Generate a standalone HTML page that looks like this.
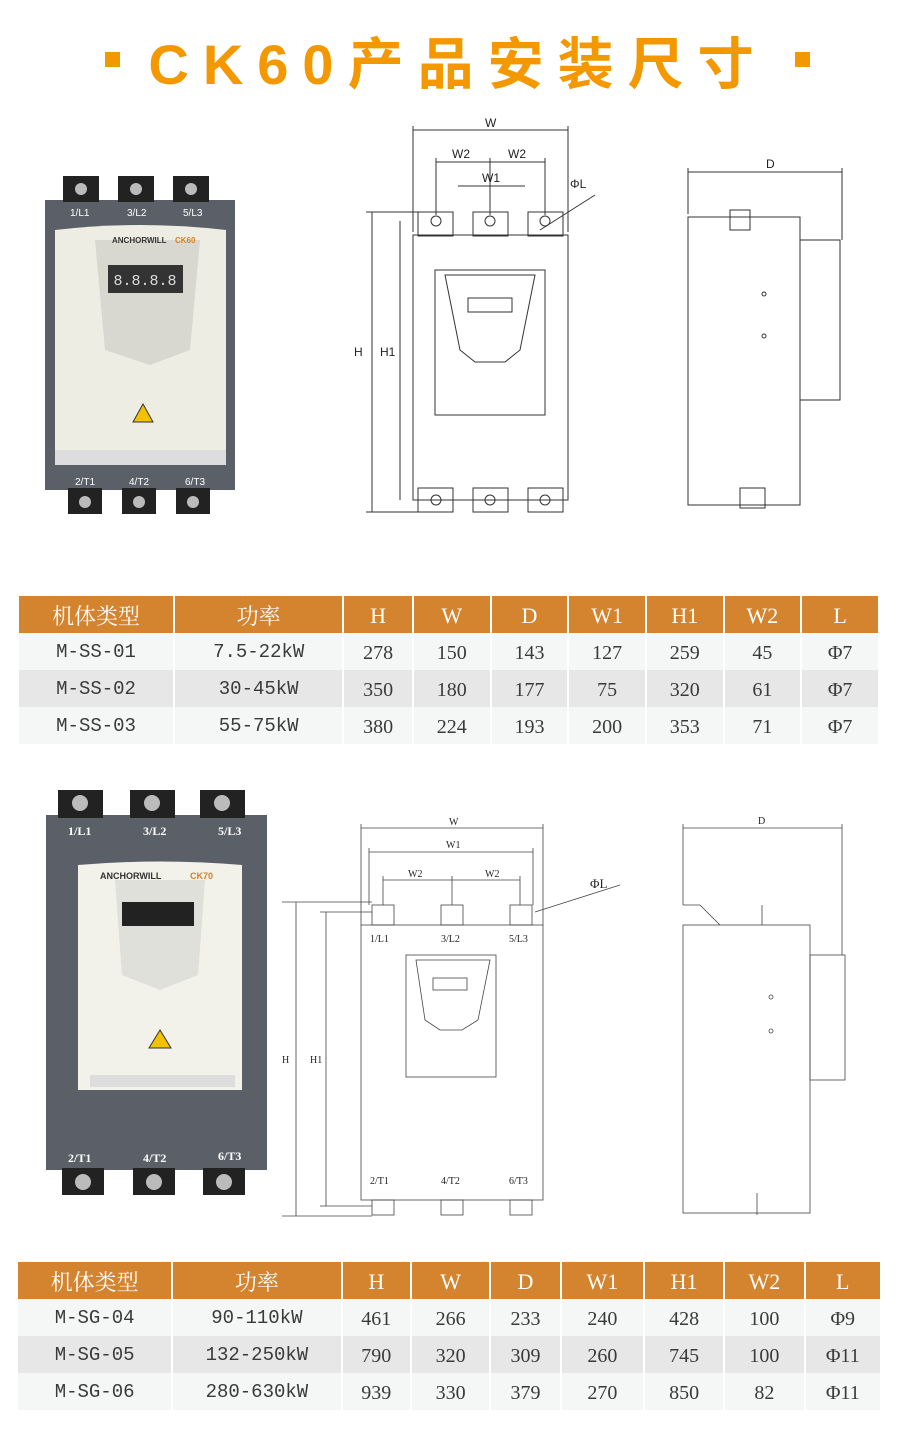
<!DOCTYPE html>
<html><head><meta charset="utf-8">
<style>
*{margin:0;padding:0;box-sizing:border-box}
body{width:900px;height:1436px;background:#fff;position:relative;overflow:hidden;font-family:"Liberation Serif","Noto Serif CJK SC",serif}
.t{position:absolute;border-collapse:separate;border-spacing:2px 0}
.t td{text-align:center;color:#3a3a3a;font-size:20px;background:#f5f6f6;padding:4px 0 0 0}
.t tr.h td{background:#d4842f;color:#fff;font-size:22px;padding:2px 0 0 0;font-family:"Liberation Serif","Noto Serif CJK SC",serif}
.t tr.g td{background:#e7e7e7}
.t td.m{font-family:"Liberation Mono","Noto Sans CJK SC",monospace;font-size:19px;padding:0}
.title{position:absolute;left:8px;top:20px;width:900px;text-align:center;color:#f39800;font:bold 56px "Liberation Sans","Noto Sans CJK SC",sans-serif;letter-spacing:14px}
.sq{position:absolute;width:15px;height:15px;background:#f39800;top:52px}
</style></head><body>
<div class="title">CK60产品安装尺寸</div>
<div class="sq" style="left:105px"></div><div class="sq" style="left:795px"></div>

<svg style="position:absolute;left:0;top:0" width="900" height="1436">
<g>
<rect x="45" y="200" width="190" height="290" fill="#5b5f68"/>
<rect x="63" y="176" width="36" height="26" fill="#222"/><rect x="118" y="176" width="36" height="26" fill="#222"/><rect x="173" y="176" width="36" height="26" fill="#222"/>
<circle cx="81" cy="189" r="6" fill="#bbb"/><circle cx="136" cy="189" r="6" fill="#bbb"/><circle cx="191" cy="189" r="6" fill="#bbb"/>
<rect x="68" y="488" width="34" height="26" fill="#222"/><rect x="122" y="488" width="34" height="26" fill="#222"/><rect x="176" y="488" width="34" height="26" fill="#222"/>
<circle cx="85" cy="502" r="6" fill="#bbb"/><circle cx="139" cy="502" r="6" fill="#bbb"/><circle cx="193" cy="502" r="6" fill="#bbb"/>
<path d="M55 230 Q140 220 226 230 L226 460 L55 460 Z" fill="#eeede4"/>
<path d="M95 240 L200 240 L190 350 L150 365 L105 350 Z" fill="#d8d8d0"/>
<rect x="108" y="265" width="75" height="28" fill="#333"/>
<text x="145" y="285" fill="#ddd" font-size="15" text-anchor="middle" font-family="Liberation Mono">8.8.8.8</text>
<text x="112" y="243" font-size="8" font-weight="bold" fill="#333" font-family="Liberation Sans">ANCHORWILL</text>
<text x="175" y="243" font-size="8" font-weight="bold" fill="#d88020" font-family="Liberation Sans">CK60</text>
<polygon points="143,404 133,422 153,422" fill="#f2c200" stroke="#333"/>
<rect x="55" y="450" width="171" height="15" fill="#ddd"/>
<text fill="#fff" font-size="10" font-family="Liberation Sans"><tspan x="70" y="216">1/L1</tspan><tspan x="127" y="216">3/L2</tspan><tspan x="183" y="216">5/L3</tspan><tspan x="75" y="485">2/T1</tspan><tspan x="129" y="485">4/T2</tspan><tspan x="185" y="485">6/T3</tspan></text>
</g>
<g fill="none" stroke="#333" stroke-width="1">
<rect x="413" y="235" width="155" height="265"/>
<rect x="435" y="270" width="110" height="145"/>
<path d="M445 275 L535 275 L520 350 L505 362 L475 362 L460 350 Z"/>
<rect x="468" y="298" width="44" height="14"/>
<rect x="418" y="212" width="35" height="24"/><rect x="473" y="212" width="35" height="24"/><rect x="528" y="212" width="35" height="24"/>
<rect x="418" y="488" width="35" height="24"/><rect x="473" y="488" width="35" height="24"/><rect x="528" y="488" width="35" height="24"/>
<circle cx="436" cy="221" r="5"/><circle cx="490" cy="221" r="5"/><circle cx="545" cy="221" r="5"/>
<circle cx="436" cy="500" r="5"/><circle cx="490" cy="500" r="5"/><circle cx="545" cy="500" r="5"/>
<line x1="413" y1="130" x2="568" y2="130"/><line x1="413" y1="126" x2="413" y2="232"/><line x1="568" y1="126" x2="568" y2="232"/>
<line x1="436" y1="162" x2="545" y2="162"/><line x1="436" y1="158" x2="436" y2="215"/><line x1="545" y1="158" x2="545" y2="215"/><line x1="490" y1="158" x2="490" y2="215"/>
<line x1="458" y1="186" x2="525" y2="186"/>
<line x1="372" y1="212" x2="372" y2="512"/><line x1="366" y1="212" x2="418" y2="212"/><line x1="366" y1="512" x2="418" y2="512"/>
<line x1="400" y1="221" x2="400" y2="500"/>
<line x1="540" y1="230" x2="595" y2="195"/>
<rect x="688" y="217" width="112" height="288"/>
<rect x="800" y="240" width="40" height="160"/>
<line x1="688" y1="172" x2="842" y2="172"/><line x1="688" y1="168" x2="688" y2="214"/><line x1="842" y1="168" x2="842" y2="240"/>
<rect x="730" y="210" width="20" height="20"/><rect x="740" y="488" width="25" height="20"/>
<circle cx="764" cy="294" r="2"/><circle cx="764" cy="336" r="2"/>
</g>
<g font-family="Liberation Sans" font-size="12" fill="#222">
<text x="485" y="127">W</text><text x="452" y="158">W2</text><text x="508" y="158">W2</text><text x="482" y="182">W1</text>
<text x="570" y="188">ΦL</text><text x="354" y="356">H</text><text x="380" y="356">H1</text><text x="766" y="168">D</text>
</g>

<g>
<rect x="46" y="815" width="221" height="355" fill="#5b5f68"/>
<rect x="58" y="790" width="45" height="28" fill="#222"/><rect x="130" y="790" width="45" height="28" fill="#222"/><rect x="200" y="790" width="45" height="28" fill="#222"/>
<circle cx="80" cy="803" r="8" fill="#bbb"/><circle cx="152" cy="803" r="8" fill="#bbb"/><circle cx="222" cy="803" r="8" fill="#bbb"/>
<rect x="62" y="1168" width="42" height="27" fill="#222"/><rect x="133" y="1168" width="42" height="27" fill="#222"/><rect x="203" y="1168" width="42" height="27" fill="#222"/>
<circle cx="83" cy="1182" r="8" fill="#bbb"/><circle cx="154" cy="1182" r="8" fill="#bbb"/><circle cx="224" cy="1182" r="8" fill="#bbb"/>
<path d="M78 865 Q160 858 242 865 L242 1090 L78 1090 Z" fill="#f2f1ea"/>
<path d="M115 880 L205 880 L198 975 L160 990 L122 975 Z" fill="#e0e0da"/>
<rect x="122" y="902" width="72" height="24" fill="#222"/>
<text x="100" y="879" font-size="9" font-weight="bold" fill="#333" font-family="Liberation Sans">ANCHORWILL</text>
<text x="190" y="879" font-size="9" font-weight="bold" fill="#d88020" font-family="Liberation Sans">CK70</text>
<polygon points="160,1030 149,1048 171,1048" fill="#f2c200" stroke="#333"/>
<rect x="90" y="1075" width="145" height="12" fill="#ddd"/>
<text fill="#fff" font-size="12" font-weight="bold" font-family="Liberation Serif"><tspan x="68" y="835">1/L1</tspan><tspan x="143" y="835">3/L2</tspan><tspan x="218" y="835">5/L3</tspan><tspan x="68" y="1162">2/T1</tspan><tspan x="143" y="1162">4/T2</tspan><tspan x="218" y="1160">6/T3</tspan></text>
</g>
<g fill="none" stroke="#444" stroke-width="0.8">
<rect x="361" y="925" width="182" height="275"/>
<rect x="406" y="955" width="90" height="122"/>
<path d="M416 960 L490 960 L478 1020 L462 1030 L440 1030 L425 1020 Z"/>
<rect x="433" y="978" width="34" height="12"/>
<rect x="372" y="905" width="22" height="20"/><rect x="441" y="905" width="22" height="20"/><rect x="510" y="905" width="22" height="20"/>
<rect x="372" y="1200" width="22" height="15"/><rect x="441" y="1200" width="22" height="15"/><rect x="510" y="1200" width="22" height="15"/>
<line x1="361" y1="828" x2="543" y2="828"/><line x1="361" y1="824" x2="361" y2="925"/><line x1="543" y1="824" x2="543" y2="925"/>
<line x1="369" y1="852" x2="533" y2="852"/><line x1="369" y1="848" x2="369" y2="905"/><line x1="533" y1="848" x2="533" y2="905"/>
<line x1="383" y1="880" x2="520" y2="880"/><line x1="383" y1="876" x2="383" y2="905"/><line x1="452" y1="876" x2="452" y2="905"/><line x1="520" y1="876" x2="520" y2="905"/>
<line x1="296" y1="902" x2="296" y2="1216"/><line x1="282" y1="902" x2="372" y2="902"/><line x1="282" y1="1216" x2="372" y2="1216"/>
<line x1="326" y1="912" x2="326" y2="1206"/><line x1="320" y1="912" x2="372" y2="912"/><line x1="320" y1="1206" x2="372" y2="1206"/>
<line x1="535" y1="912" x2="620" y2="885"/>
<rect x="683" y="925" width="127" height="288"/>
<rect x="810" y="955" width="35" height="125"/>
<line x1="683" y1="828" x2="842" y2="828"/><line x1="683" y1="824" x2="683" y2="905"/><line x1="842" y1="824" x2="842" y2="955"/>
<polyline points="683,905 700,905 720,925"/>
<line x1="762" y1="905" x2="762" y2="925"/><line x1="757" y1="1193" x2="757" y2="1215"/>
<circle cx="771" cy="997" r="2"/><circle cx="771" cy="1031" r="2"/>
</g>
<g font-family="Liberation Serif" font-size="10" fill="#222">
<text x="449" y="825">W</text><text x="446" y="848">W1</text><text x="408" y="877">W2</text><text x="485" y="877">W2</text>
<text x="590" y="888" font-size="13">ΦL</text><text x="282" y="1063">H</text><text x="310" y="1063">H1</text><text x="758" y="824">D</text>
<text x="370" y="942">1/L1</text><text x="441" y="942">3/L2</text><text x="509" y="942">5/L3</text>
<text x="370" y="1184">2/T1</text><text x="441" y="1184">4/T2</text><text x="509" y="1184">6/T3</text>
</g>
</svg>

<table class="t" style="left:17px;top:596px;width:863px">
<colgroup><col style="width:155px"><col style="width:168px"><col style="width:68px"><col style="width:76px"><col style="width:76px"><col style="width:76px"><col style="width:76px"><col style="width:76px"><col style="width:76px"></colgroup>
<tr class="h" style="height:37px"><td>机体类型</td><td>功率</td><td>H</td><td>W</td><td>D</td><td>W1</td><td>H1</td><td>W2</td><td>L</td></tr>
<tr style="height:37px"><td class="m">M-SS-01</td><td class="m">7.5-22kW</td><td>278</td><td>150</td><td>143</td><td>127</td><td>259</td><td>45</td><td>Φ7</td></tr>
<tr class="g" style="height:37px"><td class="m">M-SS-02</td><td class="m">30-45kW</td><td>350</td><td>180</td><td>177</td><td>75</td><td>320</td><td>61</td><td>Φ7</td></tr>
<tr style="height:37px"><td class="m">M-SS-03</td><td class="m">55-75kW</td><td>380</td><td>224</td><td>193</td><td>200</td><td>353</td><td>71</td><td>Φ7</td></tr>
</table>

<table class="t" style="left:16px;top:1262px;width:866px">
<colgroup><col style="width:155px"><col style="width:169px"><col style="width:68px"><col style="width:78px"><col style="width:69px"><col style="width:82px"><col style="width:79px"><col style="width:79px"><col style="width:75px"></colgroup>
<tr class="h" style="height:37px"><td>机体类型</td><td>功率</td><td>H</td><td>W</td><td>D</td><td>W1</td><td>H1</td><td>W2</td><td>L</td></tr>
<tr style="height:37px"><td class="m">M-SG-04</td><td class="m">90-110kW</td><td>461</td><td>266</td><td>233</td><td>240</td><td>428</td><td>100</td><td>Φ9</td></tr>
<tr class="g" style="height:37px"><td class="m">M-SG-05</td><td class="m">132-250kW</td><td>790</td><td>320</td><td>309</td><td>260</td><td>745</td><td>100</td><td>Φ11</td></tr>
<tr style="height:37px"><td class="m">M-SG-06</td><td class="m">280-630kW</td><td>939</td><td>330</td><td>379</td><td>270</td><td>850</td><td>82</td><td>Φ11</td></tr>
</table>
</body></html>
